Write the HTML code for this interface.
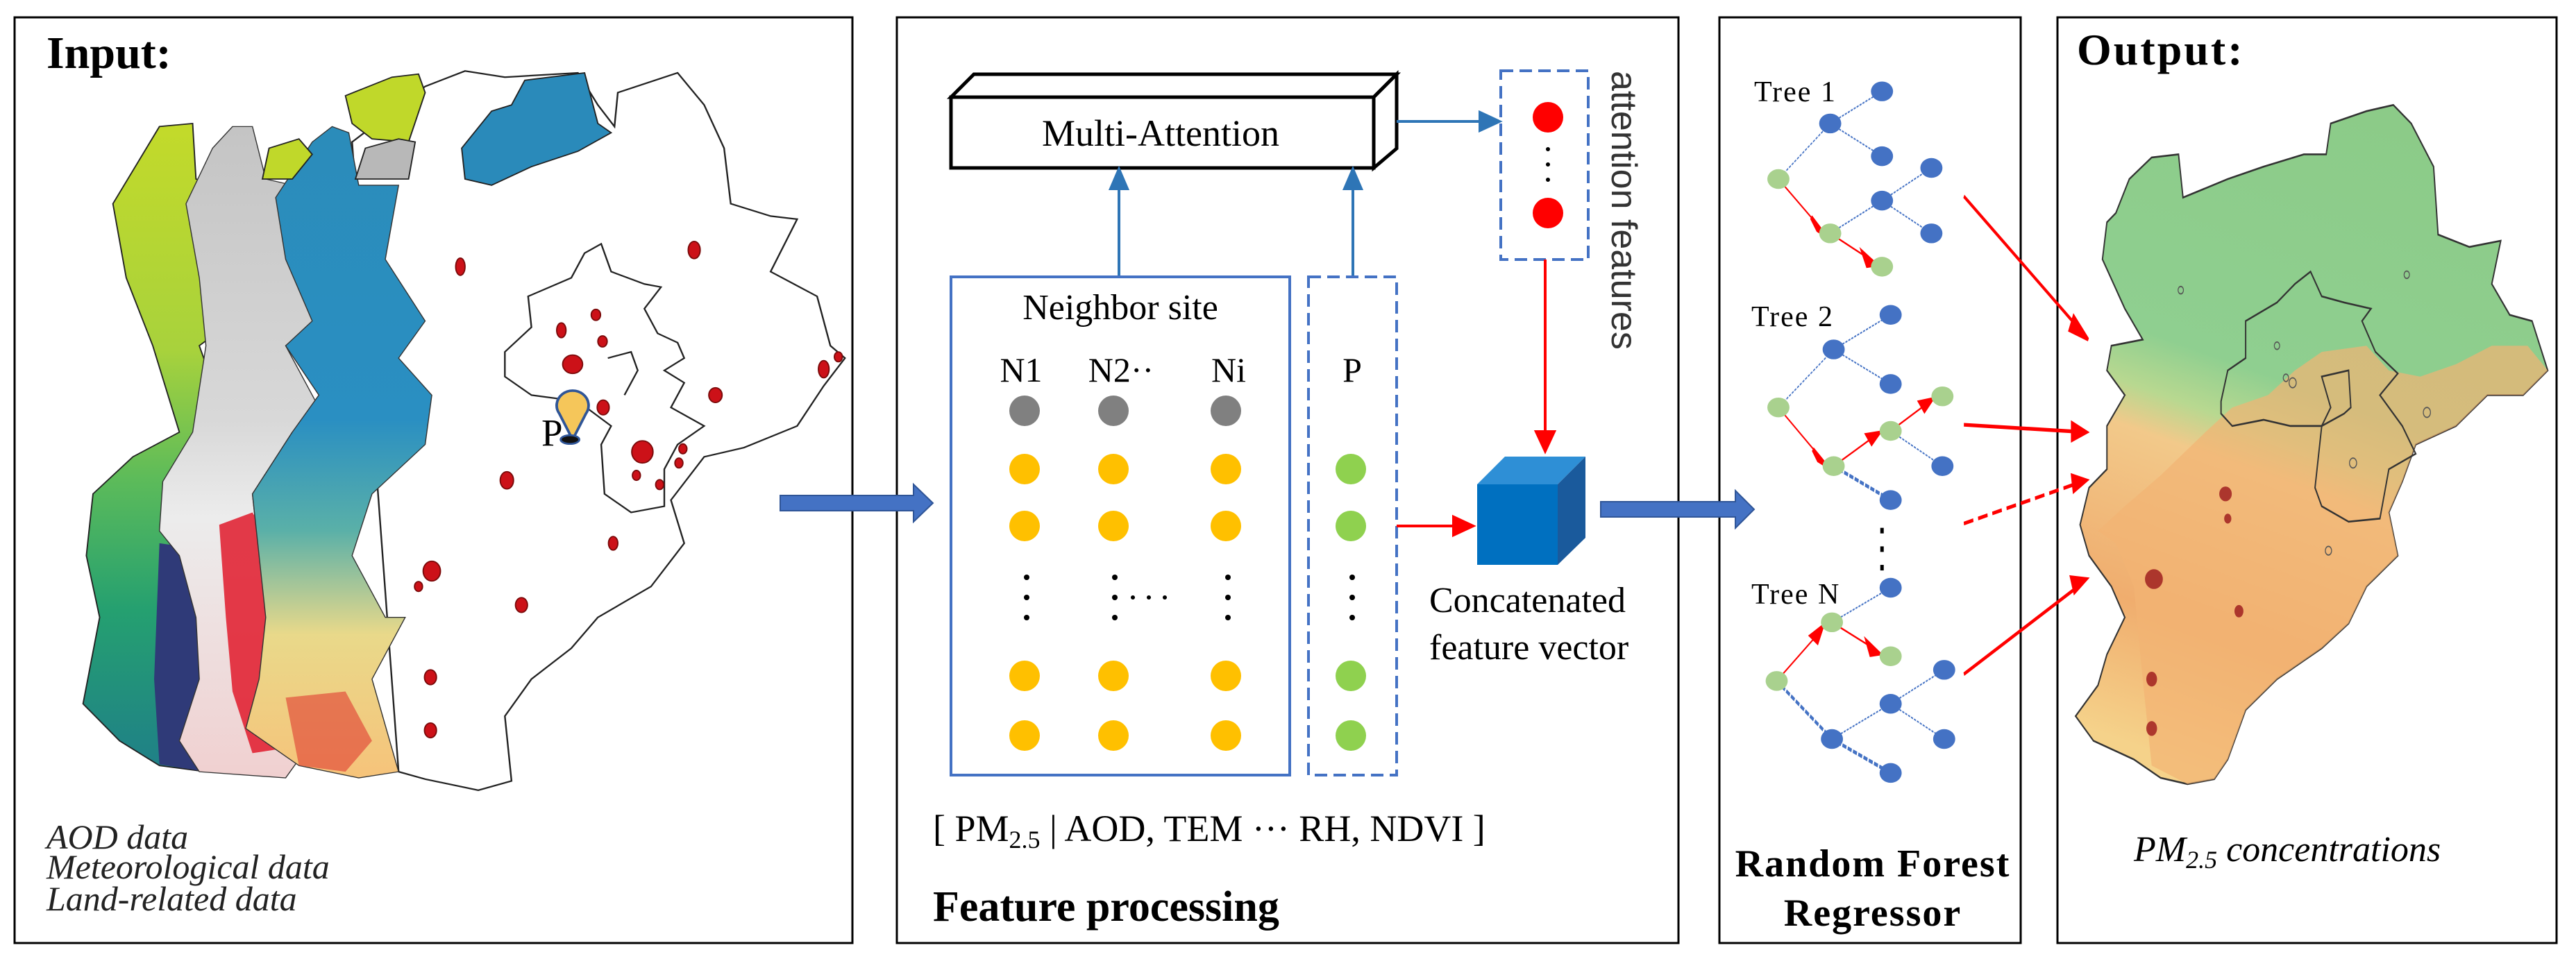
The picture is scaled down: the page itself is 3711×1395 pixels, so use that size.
<!DOCTYPE html>
<html><head><meta charset="utf-8"><style>
html,body{margin:0;padding:0;background:#fff;}
svg{display:block;font-family:"Liberation Serif",serif;}
</style></head><body>
<svg width="3711" height="1395" viewBox="0 0 3711 1395" xmlns="http://www.w3.org/2000/svg">
<defs>
<linearGradient id="vir" x1="0" y1="0" x2="0" y2="1">
<stop offset="0" stop-color="#c3da2a"/><stop offset="0.35" stop-color="#a8d23c"/><stop offset="0.55" stop-color="#5cbb5a"/><stop offset="0.75" stop-color="#25a070"/><stop offset="1" stop-color="#1f7f88"/></linearGradient>
<linearGradient id="gry" x1="0" y1="0" x2="0" y2="1">
<stop offset="0" stop-color="#c4c4c4"/><stop offset="0.45" stop-color="#d8d8d8"/><stop offset="0.6" stop-color="#ececec"/><stop offset="1" stop-color="#f0d0d0"/></linearGradient>
<linearGradient id="blu" x1="0" y1="0" x2="0" y2="1">
<stop offset="0" stop-color="#2b8cba"/><stop offset="0.45" stop-color="#2a8fc2"/><stop offset="0.62" stop-color="#5ab0a8"/><stop offset="0.78" stop-color="#e9d98a"/><stop offset="1" stop-color="#f6c37a"/></linearGradient>
<linearGradient id="outg" x1="0.6" y1="0" x2="0.35" y2="1">
<stop offset="0" stop-color="#8ccb88"/><stop offset="0.42" stop-color="#8fcf90"/><stop offset="0.5" stop-color="#b8d890"/><stop offset="0.56" stop-color="#f2c98a"/><stop offset="0.8" stop-color="#f0ad6e"/><stop offset="1" stop-color="#f5d28a"/></linearGradient>
</defs>

<rect x="21" y="25" width="1207" height="1334" fill="none" stroke="#000" stroke-width="3"/>
<rect x="1292" y="25" width="1126" height="1334" fill="none" stroke="#000" stroke-width="3"/>
<rect x="2477" y="25" width="434" height="1334" fill="none" stroke="#000" stroke-width="3"/>
<rect x="2964" y="25" width="719" height="1334" fill="none" stroke="#000" stroke-width="3"/>

<g transform="scale(0.957,0.8897)">
 <path d="M530,230 L640,140 L700,115 L760,125 L870,118 L900,170 L925,205 L930,150 L1020,118 L1060,170 L1090,240 L1100,330 L1160,350 L1200,355 L1160,440 L1230,480 L1250,560 L1272,580 L1240,625 L1200,690 L1120,725 L1060,740 L1010,810 L1030,880 L980,950 L900,1000 L860,1050 L800,1100 L760,1160 L770,1265 L720,1280 L640,1262 L600,1250 Z" fill="#fff" stroke="#222" stroke-width="2.5"/>
 <path d="M760,570 L800,530 L795,480 L860,450 L880,410 L905,395 L920,440 L970,460 L995,465 L970,500 L990,540 L1020,555 L1030,580 L1000,600 L1030,620 L1010,660 L1060,690 L1020,720 L1000,760 L1000,820 L950,830 L910,800 L905,720 L920,690 L870,650 L800,640 L760,610 Z" fill="none" stroke="#222" stroke-width="2.5"/>
 <path d="M915,580 L950,570 L960,600 L940,640" fill="none" stroke="#222" stroke-width="2.5"/>
 <path d="M170,330 L240,205 L290,200 L295,290 L330,300 L320,400 L350,520 L300,560 L340,680 L300,700 L300,900 L310,1000 L305,1130 L310,1250 L240,1240 L180,1200 L125,1140 L150,1000 L130,900 L140,800 L200,740 L270,700 L230,560 L190,450 Z" fill="url(#vir)" stroke="#222" stroke-width="2"/>
 <path d="M240,880 L305,890 L310,1000 L305,1130 L310,1250 L240,1238 L232,1100 L236,990 Z" fill="#2f3a78"/>
 <path d="M280,330 L320,240 L350,205 L380,205 L400,290 L440,300 L430,400 L480,520 L430,560 L480,660 L440,700 L380,800 L390,900 L440,1000 L420,1100 L450,1230 L430,1260 L300,1250 L270,1200 L300,1100 L295,1000 L270,900 L240,860 L245,780 L290,700 L310,560 L300,450 Z" fill="url(#gry)" stroke="#333" stroke-width="1.5"/>
 <path d="M330,850 L380,830 L420,900 L440,1000 L420,1100 L440,1210 L380,1220 L350,1120 L340,1000 Z" fill="#e01a2c" opacity="0.85"/>
 <path d="M415,320 L470,230 L500,205 L525,215 L540,300 L600,300 L580,420 L640,520 L600,580 L650,640 L640,720 L560,800 L530,900 L580,1000 L610,1000 L560,1100 L600,1250 L540,1260 L450,1240 L370,1180 L390,1100 L400,1000 L380,800 L440,700 L480,640 L430,560 L470,520 L430,420 Z" fill="url(#blu)" stroke="#333" stroke-width="1.5"/>
 <path d="M430,1130 L520,1120 L560,1200 L520,1250 L450,1240 Z" fill="#e03a30" opacity="0.6"/>
 <path d="M520,155 L590,125 L630,120 L640,150 L615,230 L560,225 L530,200 Z" fill="#c0d82a" stroke="#222" stroke-width="2"/>
 <path d="M395,290 L405,240 L450,225 L470,250 L440,290 Z" fill="#c0d82a" stroke="#222" stroke-width="2"/>
 <path d="M535,290 L550,240 L600,225 L625,230 L615,290 Z" fill="#b8b8b8" stroke="#222" stroke-width="2"/>
 <path d="M695,240 L740,180 L770,170 L790,130 L880,118 L900,200 L920,215 L870,245 L800,270 L740,300 L700,290 Z" fill="#2a8aba" stroke="#222" stroke-width="2"/>
 <g fill="#cc1118" stroke="#7a0a0a" stroke-width="2">
 <ellipse cx="693" cy="432" rx="7" ry="14"/><ellipse cx="1045" cy="405" rx="9" ry="14"/>
 <ellipse cx="845" cy="535" rx="7" ry="12"/><ellipse cx="897" cy="510" rx="7" ry="9"/><ellipse cx="907" cy="553" rx="7" ry="9"/>
 <ellipse cx="862" cy="590" rx="15" ry="15"/><ellipse cx="908" cy="660" rx="9" ry="12"/><ellipse cx="967" cy="732" rx="16" ry="18"/>
 <ellipse cx="958" cy="770" rx="6" ry="8"/><ellipse cx="993" cy="785" rx="6" ry="8"/><ellipse cx="1022" cy="750" rx="6" ry="8"/><ellipse cx="1028" cy="727" rx="6" ry="8"/>
 <ellipse cx="1077" cy="640" rx="10" ry="12"/><ellipse cx="1240" cy="598" rx="8" ry="14"/><ellipse cx="1262" cy="578" rx="6" ry="8"/>
 <ellipse cx="763" cy="778" rx="10" ry="14"/><ellipse cx="650" cy="925" rx="13" ry="16"/><ellipse cx="630" cy="950" rx="6" ry="8"/>
 <ellipse cx="785" cy="980" rx="9" ry="12"/><ellipse cx="923" cy="880" rx="7" ry="11"/><ellipse cx="648" cy="1097" rx="9" ry="12"/><ellipse cx="648" cy="1183" rx="9" ry="12"/>
 </g>
 <path d="M862,712 L842,670 A24,24 0 1 1 882,670 Z" fill="#f5c65a" stroke="#2f5597" stroke-width="4"/>
 <ellipse cx="858" cy="712" rx="14" ry="7" fill="#111" stroke="#2f5597" stroke-width="3"/>
</g>
<text x="780" y="642" font-size="55">P</text>
<text x="67" y="98" font-size="66" font-weight="bold">Input:</text>
<g font-style="italic" font-size="50" fill="#222">
<text x="67" y="1223">AOD data</text>
<text x="67" y="1266">Meteorological data</text>
<text x="67" y="1312">Land-related data</text>
</g>

<path d="M1124,714 L1316,714 L1316,698 L1344,725 L1316,752 L1316,736 L1124,736 Z" fill="#4472c4" stroke="#2f5597" stroke-width="2"/>

<path d="M1370,140 L1403,107 L2012,107 L1979,140 Z" fill="#fff" stroke="#000" stroke-width="5"/>
<path d="M1979,140 L2012,107 L2012,214 L1979,242 Z" fill="#fff" stroke="#000" stroke-width="5"/>
<rect x="1370" y="140" width="609" height="102" fill="#fff" stroke="#000" stroke-width="5"/>
<text x="1672" y="210" font-size="54" text-anchor="middle">Multi-Attention</text>

<g stroke="#2e75b6" stroke-width="4" fill="#2e75b6">
<line x1="1612" y1="398" x2="1612" y2="268"/><path d="M1600,272 L1612,244 L1624,272 Z"/>
<line x1="1949" y1="398" x2="1949" y2="268"/><path d="M1937,272 L1949,244 L1961,272 Z"/>
<line x1="2012" y1="175" x2="2136" y2="175"/><path d="M2132,162 L2160,175 L2132,188 Z"/>
</g>
<rect x="1370" y="399" width="488" height="718" fill="none" stroke="#4472c4" stroke-width="4"/>
<rect x="1885" y="399" width="127" height="718" fill="none" stroke="#4472c4" stroke-width="4" stroke-dasharray="18,9"/>
<rect x="2162" y="102" width="126" height="272" fill="none" stroke="#4472c4" stroke-width="4" stroke-dasharray="18,9"/>

<text x="1614" y="460" font-size="52" text-anchor="middle">Neighbor site</text>
<g font-size="50" text-anchor="middle">
<text x="1471" y="550">N1</text><text x="1615" y="550">N2··</text><text x="1770" y="550">Ni</text><text x="1948" y="550">P</text>
</g>
<g>
<circle cx="1476" cy="592" r="22" fill="#808080"/><circle cx="1604" cy="592" r="22" fill="#808080"/><circle cx="1766" cy="592" r="22" fill="#808080"/>
<g fill="#ffc000">
<circle cx="1476" cy="676" r="22"/><circle cx="1604" cy="676" r="22"/><circle cx="1766" cy="676" r="22"/>
<circle cx="1476" cy="758" r="22"/><circle cx="1604" cy="758" r="22"/><circle cx="1766" cy="758" r="22"/>
<circle cx="1476" cy="974" r="22"/><circle cx="1604" cy="974" r="22"/><circle cx="1766" cy="974" r="22"/>
<circle cx="1476" cy="1060" r="22"/><circle cx="1604" cy="1060" r="22"/><circle cx="1766" cy="1060" r="22"/>
</g>
<g fill="#8fd14f">
<circle cx="1946" cy="676" r="22"/><circle cx="1946" cy="758" r="22"/><circle cx="1946" cy="974" r="22"/><circle cx="1946" cy="1060" r="22"/>
</g>
<g fill="#000">
<circle cx="1479" cy="832" r="4"/><circle cx="1479" cy="861" r="4"/><circle cx="1479" cy="890" r="4"/>
<circle cx="1606" cy="832" r="4"/><circle cx="1606" cy="861" r="4"/><circle cx="1606" cy="890" r="4"/>
<circle cx="1632" cy="861" r="3"/><circle cx="1655" cy="861" r="3"/><circle cx="1678" cy="861" r="3"/>
<circle cx="1769" cy="832" r="4"/><circle cx="1769" cy="861" r="4"/><circle cx="1769" cy="890" r="4"/>
<circle cx="1948" cy="832" r="4"/><circle cx="1948" cy="861" r="4"/><circle cx="1948" cy="890" r="4"/>
<circle cx="2230" cy="215" r="3"/><circle cx="2230" cy="237" r="3"/><circle cx="2230" cy="259" r="3"/>
</g>
<circle cx="2230" cy="169" r="22" fill="#ff0000"/><circle cx="2230" cy="307" r="22" fill="#ff0000"/>
</g>
<text transform="translate(2322,102) rotate(90)" font-size="52" font-family="Liberation Sans, sans-serif" fill="#333">attention features</text>

<g stroke="#ff0000" stroke-width="4" fill="#ff0000">
<line x1="2226" y1="374" x2="2226" y2="625"/><path d="M2213,622 L2226,650 L2239,622 Z"/>
<line x1="2012" y1="758" x2="2096" y2="758"/><path d="M2094,745 L2122,758 L2094,771 Z"/>
</g>
<path d="M2128,698 L2168,658 L2284,658 L2244,698 Z" fill="#2e8fd6"/>
<path d="M2244,698 L2284,658 L2284,775 L2244,814 Z" fill="#1a5a9c"/>
<rect x="2128" y="698" width="116" height="116" fill="#0070c0"/>
<text x="2059" y="882" font-size="52">Concatenated</text>
<text x="2059" y="950" font-size="52">feature vector</text>

<path d="M2306,723 L2500,723 L2500,707 L2527,734 L2500,761 L2500,745 L2306,745 Z" fill="#4472c4" stroke="#2f5597" stroke-width="2"/>

<text x="1344" y="1212" font-size="54">[ PM<tspan font-size="36" dy="10">2.5</tspan><tspan dy="-10"> | AOD, TEM ··· RH, NDVI ]</tspan></text>
<text x="1344" y="1327" font-size="62" font-weight="bold">Feature processing</text>

<g transform="translate(2460,0) scale(0.4975,0.8897)">
 <g stroke="#4472c4" stroke-width="2.5" fill="none" stroke-dasharray="6,3">
  <line x1="205" y1="290" x2="355" y2="200"/><line x1="355" y1="200" x2="505" y2="148"/><line x1="355" y1="200" x2="505" y2="253"/>
  <line x1="355" y1="378" x2="505" y2="325"/><line x1="505" y1="325" x2="648" y2="272"/><line x1="505" y1="325" x2="648" y2="378"/>
  <line x1="205" y1="660" x2="365" y2="566"/><line x1="365" y1="566" x2="530" y2="510"/><line x1="365" y1="566" x2="530" y2="622"/>
  <line x1="530" y1="698" x2="680" y2="755"/>
  <line x1="360" y1="1008" x2="530" y2="952"/>
  <line x1="360" y1="1197" x2="530" y2="1140"/><line x1="530" y1="1140" x2="685" y2="1085"/><line x1="530" y1="1140" x2="685" y2="1197"/>
 </g>
 <g stroke="#4472c4" stroke-width="6" fill="none" stroke-dasharray="12,4">
  <line x1="365" y1="755" x2="530" y2="810"/><line x1="200" y1="1103" x2="360" y2="1197"/><line x1="360" y1="1197" x2="530" y2="1252"/>
 </g>
 <g stroke="#ff0000" stroke-width="3" fill="#ff0000">
  <line x1="205" y1="290" x2="320" y2="365"/><path d="M300,352 L335,378 L318,372 Z" stroke-width="8"/>
  <line x1="355" y1="378" x2="470" y2="420"/><path d="M450,410 L485,428 L462,430 Z" stroke-width="8"/>
  <line x1="205" y1="660" x2="325" y2="740"/><path d="M305,728 L340,752 L320,745 Z" stroke-width="8"/>
  <line x1="365" y1="755" x2="480" y2="708"/><path d="M462,705 L495,702 L475,718 Z" stroke-width="8"/>
  <line x1="530" y1="698" x2="630" y2="656"/><path d="M615,652 L648,648 L628,665 Z" stroke-width="8"/>
  <line x1="200" y1="1103" x2="318" y2="1028"/><path d="M300,1030 L332,1016 L318,1040 Z" stroke-width="8"/>
  <line x1="360" y1="1008" x2="480" y2="1050"/><path d="M462,1040 L495,1058 L472,1060 Z" stroke-width="8"/>
 </g>
 <g fill="#4472c4">
  <ellipse cx="355" cy="200" rx="32" ry="16"/><ellipse cx="505" cy="148" rx="32" ry="16"/><ellipse cx="505" cy="253" rx="32" ry="16"/>
  <ellipse cx="505" cy="325" rx="32" ry="16"/><ellipse cx="648" cy="272" rx="32" ry="16"/><ellipse cx="648" cy="378" rx="32" ry="16"/>
  <ellipse cx="365" cy="566" rx="32" ry="16"/><ellipse cx="530" cy="510" rx="32" ry="16"/><ellipse cx="530" cy="622" rx="32" ry="16"/>
  <ellipse cx="680" cy="755" rx="32" ry="16"/><ellipse cx="530" cy="810" rx="32" ry="16"/>
  <ellipse cx="530" cy="952" rx="32" ry="16"/><ellipse cx="360" cy="1197" rx="32" ry="16"/><ellipse cx="530" cy="1140" rx="32" ry="16"/>
  <ellipse cx="530" cy="1252" rx="32" ry="16"/><ellipse cx="685" cy="1085" rx="32" ry="16"/><ellipse cx="685" cy="1197" rx="32" ry="16"/>
 </g>
 <g fill="#a9d18e">
  <ellipse cx="205" cy="290" rx="32" ry="16"/><ellipse cx="355" cy="378" rx="32" ry="16"/><ellipse cx="505" cy="432" rx="32" ry="16"/>
  <ellipse cx="205" cy="660" rx="32" ry="16"/><ellipse cx="365" cy="755" rx="32" ry="16"/><ellipse cx="530" cy="698" rx="32" ry="16"/><ellipse cx="680" cy="642" rx="32" ry="16"/>
  <ellipse cx="200" cy="1103" rx="32" ry="16"/><ellipse cx="360" cy="1008" rx="32" ry="16"/><ellipse cx="530" cy="1063" rx="32" ry="16"/>
 </g>
 <g fill="#000"><rect x="500" y="855" width="10" height="9"/><rect x="500" y="885" width="10" height="9"/><rect x="500" y="915" width="10" height="9"/></g>
 <g stroke="#ff0000" stroke-width="6" fill="#ff0000">
  <line x1="742" y1="318" x2="1075" y2="532"/><path d="M1060,512 L1102,550 L1048,535 Z"/>
  <line x1="742" y1="688" x2="1065" y2="699"/><path d="M1055,685 L1097,700 L1055,713 Z"/>
  <line x1="742" y1="848" x2="1065" y2="784" stroke-dasharray="28,14"/><path d="M1055,770 L1097,778 L1060,796 Z"/>
  <line x1="742" y1="1092" x2="1068" y2="952"/><path d="M1052,935 L1097,938 L1062,960 Z"/>
 </g>
</g>
<g font-size="42" letter-spacing="2">
<text x="2527" y="146">Tree 1</text><text x="2523" y="470">Tree 2</text><text x="2523" y="870">Tree N</text>
</g>
<text x="2698" y="1263" font-size="56" font-weight="bold" text-anchor="middle" letter-spacing="2">Random Forest</text>
<text x="2698" y="1334" font-size="56" font-weight="bold" text-anchor="middle" letter-spacing="2">Regressor</text>

<g transform="translate(2700,0) scale(0.6447,0.8897)">
 <path d="M520,360 L540,345 L570,290 L620,255 L680,250 L690,320 L740,305 L790,290 L870,270 L960,250 L1010,250 L1020,200 L1100,180 L1160,170 L1200,200 L1250,270 L1260,380 L1330,400 L1400,390 L1380,460 L1420,510 L1470,520 L1505,600 L1450,640 L1370,640 L1300,690 L1210,720 L1180,780 L1150,830 L1170,900 L1100,950 L1060,1010 L1000,1050 L900,1100 L830,1150 L790,1230 L760,1262 L700,1270 L640,1260 L580,1230 L490,1200 L450,1160 L500,1110 L520,1060 L560,1000 L530,950 L480,900 L460,850 L480,790 L520,760 L520,690 L560,640 L520,600 L530,560 L600,550 L560,500 L510,420 Z" fill="url(#outg)" stroke="#333" stroke-width="3"/>
 <path d="M500,860 L560,820 L640,770 L740,700 L800,660 L880,640 L940,600 L1000,570 L1100,560 L1150,600 L1220,610 L1300,590 L1380,560 L1460,560 L1505,600 L1450,640 L1370,640 L1300,690 L1210,720 L1180,780 L1150,830 L1170,900 L1100,950 L1060,1010 L1000,1050 L900,1100 L830,1150 L790,1230 L760,1262 L700,1270 L620,1240 L600,1100 L580,950 L540,880 Z" fill="#f2b473" opacity="0.7"/>
 <path d="M775,650 L790,600 L830,580 L830,520 L900,490 L940,460 L975,440 L1000,480 L1050,490 L1110,500 L1090,520 L1120,570 L1170,605 L1130,640 L1180,690 L1210,735 L1150,760 L1130,840 L1060,845 L1000,820 L985,790 L1000,690 L930,690 L870,680 L800,690 L775,670 Z" fill="none" stroke="#333" stroke-width="3"/>
 <path d="M1000,690 L1020,660 L1000,610 L1060,600 L1065,660 L1050,670 L1000,690" fill="none" stroke="#333" stroke-width="3"/>
 <g fill="#a02020" opacity="0.85">
  <ellipse cx="625" cy="938" rx="20" ry="16"/><ellipse cx="785" cy="800" rx="14" ry="12"/><ellipse cx="815" cy="990" rx="10" ry="10"/>
  <ellipse cx="620" cy="1100" rx="12" ry="12"/><ellipse cx="620" cy="1180" rx="12" ry="12"/><ellipse cx="790" cy="840" rx="8" ry="8"/>
 </g>
 <g fill="none" stroke="#555" stroke-width="2">
  <circle cx="685" cy="470" r="6"/><circle cx="1190" cy="445" r="6"/><circle cx="935" cy="620" r="8"/><circle cx="920" cy="612" r="6"/>
  <circle cx="900" cy="560" r="6"/><circle cx="1070" cy="750" r="8"/><circle cx="1235" cy="668" r="8"/><circle cx="1015" cy="892" r="7"/>
 </g>
</g>
<text x="2992" y="93" font-size="64" font-weight="bold" letter-spacing="3">Output:</text>
<text x="3074" y="1241" font-size="52" font-style="italic">PM<tspan font-size="36" dy="10">2.5</tspan><tspan dy="-10"> concentrations</tspan></text>
</svg>
</body></html>
